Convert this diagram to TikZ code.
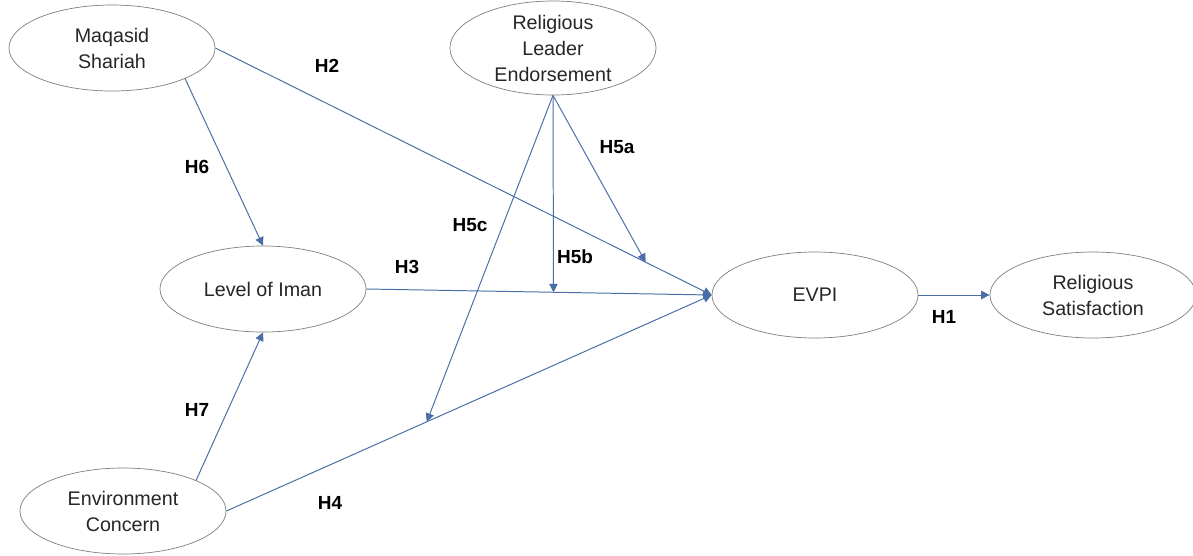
\documentclass[tikz,border=0pt]{standalone}
\usepackage{fontspec}
\setmainfont{Liberation Sans}
\usetikzlibrary{shapes.geometric,arrows.meta,positioning}
\definecolor{linkblue}{HTML}{4A6DA7}
\definecolor{rimgray}{HTML}{7F7F7F}
\definecolor{inkgray}{HTML}{262626}
\tikzset{
  construct/.style={ellipse,draw=rimgray,fill=white,line width=0.5pt,
    minimum width=5.15cm,minimum height=2.15cm,inner sep=0pt,align=center,
    text=inkgray,font=\fontsize{14}{18.5}\selectfont},
  hyp/.style={font=\fontsize{13.5}{16}\selectfont\bfseries},
  link/.style={draw=linkblue,line width=0.7pt,-{Triangle[length=6pt,width=6pt]}}
}
\begin{document}
\begin{tikzpicture}[x=0.025cm,y=-0.025cm]
    \useasboundingbox (0,0) rectangle (1193,555);
    % constructs
    \node[construct] (ms) at (112,48) {Maqasid\\Shariah};
    \node[construct] (rle) at (553,48) {Religious\\Leader\\Endorsement};
    \node[construct] (li) at (263,289) {Level of Iman};
    \node[construct] (evpi) at (815,295) {EVPI};
    \node[construct] (rs) at (1093,295) {Religious\\Satisfaction};
    \node[construct] (ec) at (123,511) {Environment\\Concern};
    % direct paths
    \draw[link] (ms.east)--(evpi.west) coordinate[pos=0.867] (h5a);
    \draw[link] (li.east)--(evpi.west) coordinate[pos=0.542] (h5b);
    \draw[link] (ec.east)--(evpi.west) coordinate[pos=0.413] (h5c);
    \draw[link] (evpi.east)--(rs.west);
    \draw[link] (ms.south east)--(li.north);
    \draw[link] (ec.north east)--(li.south);
    % moderation
    \draw[link] (rle.south)--(h5a);
    \draw[link] (rle.south)--(h5b);
    \draw[link] (rle.south)--(h5c);
    % labels
    \node[hyp] (lh2) at (327,66) {H2};
    \node[hyp] (lh6) at (197,167) {H6};
    \node[hyp] (lh5a) at (617,147) {H5a};
    \node[hyp] (lh5c) at (470,225) {H5c};
    \node[hyp] (lh5b) at (575,257) {H5b};
    \node[hyp] (lh3) at (407,267) {H3};
    \node[hyp] (lh1) at (944,317) {H1};
    \node[hyp] (lh7) at (197,410) {H7};
    \node[hyp] (lh4) at (330,503) {H4};
\end{tikzpicture}
\end{document}
